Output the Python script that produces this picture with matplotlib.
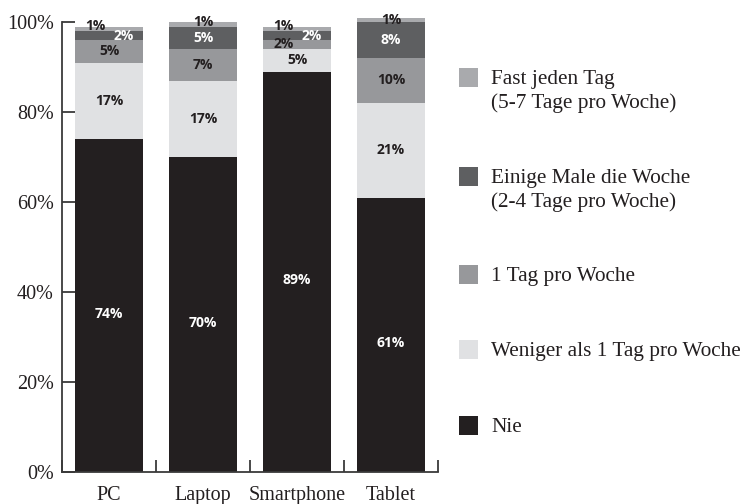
import numpy as np
import matplotlib.pyplot as plt
from matplotlib.patches import Rectangle

# Usage frequency per device, in percent (bottom to top of each stack)
devices = ['PC', 'Laptop', 'Smartphone', 'Tablet']
nie = [74, 70, 89, 61]
weniger = [17, 17, 5, 21]
ein_tag = [5, 7, 2, 10]
einige_male = [2, 5, 2, 8]
fast_taeglich = [1, 1, 1, 1]

series = [nie, weniger, ein_tag, einige_male, fast_taeglich]
series_names = [
    'Nie',
    'Weniger als 1 Tag pro Woche',
    '1 Tag pro Woche',
    'Einige Male die Woche\n(2-4 Tage pro Woche)',
    'Fast jeden Tag\n(5-7 Tage pro Woche)',
]
colors = ['#231f20', '#e0e1e3', '#97989b', '#5e5f61', '#a9aaad']
label_colors = ['white', '#231f20', '#231f20', 'white', '#231f20']

# nudges (x in bar units, y in percent) for the crowded small segments
label_nudge = {
    (3, 0): (0.16, 0.0), (4, 0): (-0.15, 0.6),
    (4, 1): (0.0, 0.5),
    (2, 2): (-0.14, 0.0), (3, 2): (0.16, 0.0), (4, 2): (-0.15, 0.6),
}
# the big "Nie" labels sit a little below the middle of their segment
series_dy = [-1.8, 0, 0, 0, 0]

serif = 'Liberation Serif'
sans = 'Open Sans'

fig = plt.figure(figsize=(7.41, 5.04), dpi=100)
ax = fig.add_axes([62 / 741, 32 / 504, 376 / 741, 450 / 504])

x = np.arange(len(devices))
bottom = np.zeros(len(devices))
for i, vals in enumerate(series):
    vals = np.array(vals, dtype=float)
    ax.bar(x, vals, width=0.72, bottom=bottom, color=colors[i],
           edgecolor='none', clip_on=False, zorder=2)
    for j, v in enumerate(vals):
        dx, dy = label_nudge.get((i, j), (0.0, 0.0))
        ax.text(x[j] + dx, bottom[j] + v / 2 + dy + series_dy[i], f'{int(v)}%',
                ha='center', va='center', color=label_colors[i],
                fontsize=10, fontweight='bold', family=sans, zorder=3)
    bottom += vals

ax.set_xlim(-0.5, 3.5)
ax.set_ylim(0, 100)

ax.spines['top'].set_visible(False)
ax.spines['right'].set_visible(False)
for s in ('left', 'bottom'):
    ax.spines[s].set_color('#3a3a3a')
    ax.spines[s].set_linewidth(1.3)

ax.set_yticks(range(0, 101, 20))
ax.set_yticklabels([f'{t}%' for t in range(0, 101, 20)])
ax.tick_params(axis='y', direction='in', length=9, width=1.3,
               color='#3a3a3a', pad=6, labelsize=14.5, labelcolor='#231f20')

ax.set_xticks(x)
ax.set_xticklabels(devices)
ax.set_xticks(np.arange(-0.5, 3.6, 1.0), minor=True)
ax.tick_params(axis='x', which='major', length=0, pad=10, labelsize=14.5,
               labelcolor='#231f20')
ax.tick_params(axis='x', which='minor', direction='in', length=9, width=1.3,
               color='#3a3a3a')
for lab in ax.get_xticklabels() + ax.get_yticklabels():
    lab.set_family(serif)

# legend drawn by hand, top entry first
legend_y = [77, 176, 274, 349, 425]
for name, col, yc in zip(series_names[::-1], colors[::-1], legend_y):
    fig.add_artist(Rectangle((459 / 741, 1 - (yc + 9.5) / 504), 19 / 741, 19 / 504,
                             transform=fig.transFigure, facecolor=col,
                             edgecolor='none'))
    fig.text(491 / 741, 1 - (yc - 7) / 504, name, ha='left', va='top',
             fontsize=15.3, family=serif, color='#231f20', linespacing=1.3)

fig.savefig('out.png', dpi=100)
